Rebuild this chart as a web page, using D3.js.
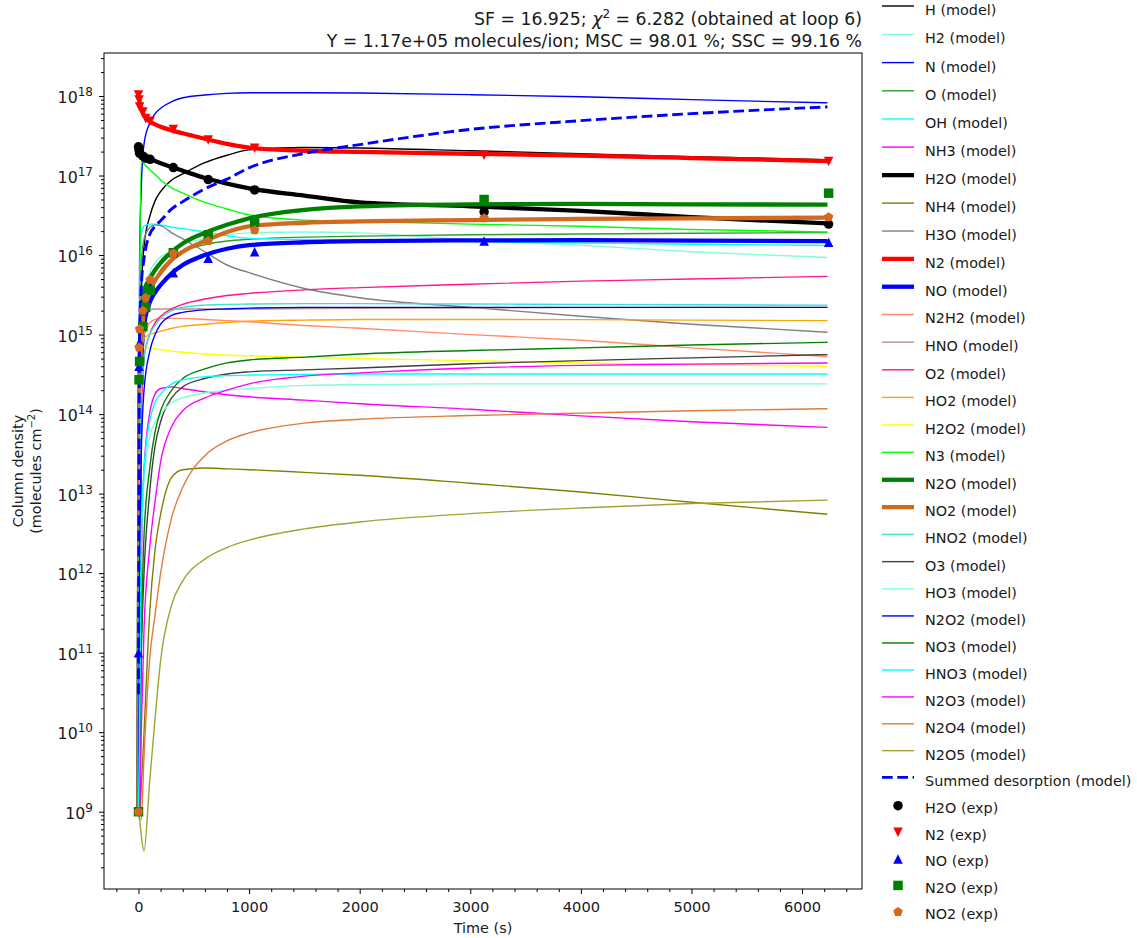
<!DOCTYPE html>
<html>
<head>
<meta charset="utf-8">
<title>Column density vs time</title>
<script src="https://d3js.org/d3.v7.min.js"></script>
<style>
  body { margin: 0; background: #fff; }
  svg text { font-family: "DejaVu Sans", sans-serif; fill: #1a1a1a; }
</style>
</head>
<body>
<div id="chart"></div>
<script>
// time grid of the model curves (s)
var modelTime = [0, 10, 25, 50, 100, 150, 200, 300, 400, 600, 800, 1000, 1500, 2000, 3000, 4000, 5000, 6230];

// model column densities (molecules cm-2), one array per species
var mH    = [1e9, 1e14, 3e15, 1.3e16, 3e16, 4.8e16, 6.3e16, 8.8e16, 1.05e17, 1.45e17, 1.8e17, 2.1e17, 2.25e17, 2.22e17, 2.05e17, 1.88e17, 1.73e17, 1.58e17];
var mH2   = [1e9, 1e14, 1e15, 3e15, 6e15, 8e15, 9.5e15, 1.1e16, 1.35e16, 1.6e16, 1.8e16, 1.9e16, 1.95e16, 1.9e16, 1.55e16, 1.33e16, 1.1e16, 9.3e15];
var mN    = [1e9, 1e16, 7e16, 2.5e17, 4.5e17, 6e17, 7e17, 8.5e17, 9.5e17, 1.03e18, 1.08e18, 1.1e18, 1.1e18, 1.09e18, 1.04e18, 9.8e17, 9e17, 8.2e17];
var mO    = [1e9, 1e13, 2e14, 1e15, 3e15, 5e15, 6.5e15, 9e15, 1.1e16, 1.35e16, 1.5e16, 1.58e16, 1.68e16, 1.73e16, 1.8e16, 1.84e16, 1.88e16, 1.92e16];
var mOH   = [1e9, 5e15, 1.8e16, 2.3e16, 2.45e16, 2.45e16, 2.4e16, 2.25e16, 2.15e16, 1.95e16, 1.75e16, 1.62e16, 1.57e16, 1.55e16, 1.48e16, 1.42e16, 1.37e16, 1.32e16];
var mNH3  = [1e9, 1e10, 1e12, 2e13, 1e14, 1.8e14, 2.1e14, 2.2e14, 2.1e14, 1.9e14, 1.75e14, 1.65e14, 1.5e14, 1.35e14, 1.15e14, 9.5e13, 8e13, 6.8e13];
var mH2O  = [2.3e17, 2.1e17, 1.9e17, 1.75e17, 1.62e17, 1.52e17, 1.43e17, 1.28e17, 1.15e17, 9.3e16, 7.9e16, 6.9e16, 5.6e16, 4.6e16, 4.1e16, 3.6e16, 3.0e16, 2.5e16];
var mNH4  = [1e9, 1e9, 2e9, 1e10, 3e11, 2e12, 5.5e12, 1.6e13, 2e13, 2.1e13, 2.05e13, 2e13, 1.85e13, 1.7e13, 1.35e13, 1.05e13, 7.8e12, 5.5e12];
var mH3O  = [1e9, 1e15, 8e15, 1.6e16, 2.2e16, 2.4e16, 2.35e16, 1.9e16, 1.6e16, 1.1e16, 7.5e15, 6e15, 3.8e15, 2.9e15, 2.2e15, 1.7e15, 1.35e15, 1.07e15];
var mN2   = [1.05e18, 8.5e17, 6.9e17, 5.7e17, 4.8e17, 4.4e17, 4.1e17, 3.7e17, 3.4e17, 2.9e17, 2.5e17, 2.25e17, 2.05e17, 1.98e17, 1.88e17, 1.78e17, 1.66e17, 1.52e17];
var mNO   = [1e9, 1e14, 5e14, 1.3e15, 2.5e15, 3.4e15, 4.2e15, 5.9e15, 7.5e15, 1.0e16, 1.2e16, 1.33e16, 1.45e16, 1.5e16, 1.53e16, 1.54e16, 1.52e16, 1.5e16];
var mN2H2 = [1e9, 1e14, 5e14, 1e15, 1.4e15, 1.55e15, 1.6e15, 1.6e15, 1.6e15, 1.55e15, 1.5e15, 1.45e15, 1.3e15, 1.2e15, 1e15, 8.5e14, 6.8e14, 5.3e14];
var mHNO  = [1e9, 5e14, 1.5e15, 1.9e15, 2.05e15, 2.1e15, 2.1e15, 2.1e15, 2.1e15, 2.1e15, 2.1e15, 2.1e15, 2.12e15, 2.14e15, 2.16e15, 2.18e15, 2.2e15, 2.2e15];
var mO2   = [1e9, 1e12, 1e14, 5e14, 1e15, 1.4e15, 1.7e15, 2.1e15, 2.4e15, 2.8e15, 3.1e15, 3.3e15, 3.65e15, 3.9e15, 4.3e15, 4.7e15, 5e15, 5.4e15];
var mHO2  = [1e9, 3e14, 7e14, 9e14, 1e15, 1.05e15, 1.1e15, 1.2e15, 1.27e15, 1.35e15, 1.42e15, 1.47e15, 1.52e15, 1.55e15, 1.55e15, 1.54e15, 1.52e15, 1.5e15];
var mH2O2 = [1e9, 5e14, 7e14, 7e14, 6.8e14, 6.6e14, 6.5e14, 6.2e14, 6e14, 5.7e14, 5.5e14, 5.4e14, 5.2e14, 5e14, 4.7e14, 4.4e14, 4.2e14, 4e14];
var mN3   = [1e9, 1e15, 1.55e17, 1.4e17, 1.2e17, 1.03e17, 8.8e16, 7e16, 6e16, 4.6e16, 3.8e16, 3.2e16, 2.75e16, 2.65e16, 2.45e16, 2.3e16, 2.1e16, 1.95e16];
var mN2O  = [1e9, 5e14, 1.5e15, 3.5e15, 5e15, 6.5e15, 8e15, 1.1e16, 1.4e16, 1.9e16, 2.4e16, 2.9e16, 3.7e16, 4.1e16, 4.35e16, 4.4e16, 4.35e16, 4.3e16];
var mNO2  = [1e9, 2e14, 8e14, 2e15, 3.5e15, 4.8e15, 6e15, 8.7e15, 1.1e16, 1.5e16, 1.95e16, 2.3e16, 2.55e16, 2.65e16, 2.75e16, 2.85e16, 2.9e16, 2.95e16];
var mHNO2 = [1e9, 1e13, 2e14, 5e14, 1e15, 1.3e15, 1.6e15, 2e15, 2.2e15, 2.35e15, 2.4e15, 2.42e15, 2.45e15, 2.45e15, 2.42e15, 2.4e15, 2.37e15, 2.35e15];
var mO3   = [1e9, 1e10, 1e11, 1e12, 1e13, 4e13, 8e13, 1.6e14, 2.2e14, 2.8e14, 3.2e14, 3.4e14, 3.6e14, 3.8e14, 4.3e14, 4.7e14, 5.1e14, 5.6e14];
var mHO3  = [1e9, 1e11, 2e12, 1.5e13, 5e13, 8e13, 1e14, 1.4e14, 1.6e14, 1.85e14, 2e14, 2.1e14, 2.3e14, 2.35e14, 2.4e14, 2.4e14, 2.4e14, 2.4e14];
var mN2O2 = [1e9, 1e12, 3e13, 2e14, 6e14, 1e15, 1.35e15, 1.75e15, 1.9e15, 2.05e15, 2.1e15, 2.15e15, 2.2e15, 2.2e15, 2.2e15, 2.2e15, 2.2e15, 2.2e15];
var mNO3  = [1e9, 1e9, 1e11, 3e12, 2e13, 6e13, 1.1e14, 2e14, 2.8e14, 3.7e14, 4.4e14, 4.8e14, 5.2e14, 5.7e14, 6.3e14, 6.8e14, 7.4e14, 8e14];
var mHNO3 = [1e9, 1e10, 3e12, 2e13, 8e13, 1.4e14, 1.8e14, 2.4e14, 2.7e14, 2.95e14, 3.05e14, 3.1e14, 3.15e14, 3.2e14, 3.2e14, 3.2e14, 3.2e14, 3.2e14];
var mN2O3 = [1e9, 1e9, 1e10, 2e11, 2e12, 8e12, 2.5e13, 7e13, 1.1e14, 1.6e14, 2e14, 2.4e14, 3e14, 3.3e14, 3.8e14, 4.1e14, 4.25e14, 4.4e14];
var mN2O4 = [1e9, 8e8, 8e8, 5e9, 8e10, 3e11, 1e12, 5e12, 1.2e13, 3e13, 4.6e13, 5.8e13, 7.7e13, 8.6e13, 9.6e13, 1.03e14, 1.1e14, 1.17e14];
var mN2O5 = [1e9, 8e8, 5e8, 3.2e8, 2.3e9, 1.5e10, 8e10, 4e11, 8e11, 1.5e12, 2.1e12, 2.6e12, 3.6e12, 4.4e12, 5.6e12, 6.6e12, 7.5e12, 8.3e12];
var mSummed = [3e10, 1e15, 4e15, 9e15, 1.8e16, 2.3e16, 2.7e16, 3.8e16, 4.7e16, 6.8e16, 9e16, 1.25e17, 1.9e17, 2.45e17, 3.8e17, 4.9e17, 6e17, 7.3e17];

// experimental points
var expTime = [0, 5, 10, 40, 65, 105, 315, 630, 1050, 3125, 6240];
var eH2O = [2.3e17, 2.1e17, 1.9e17, 1.75e17, 1.65e17, 1.6e17, 1.26e17, 8.9e16, 6.6e16, 3.5e16, 2.45e16];
var eN2  = [1.03e18, 8.9e17, 7.3e17, 6.3e17, 5.2e17, 4.8e17, 3.8e17, 2.8e17, 2.2e17, 1.8e17, 1.5e17];
var eNO  = [1e11, 4e14, 8e14, 2e15, 3e15, 4e15, 6e15, 9.1e15, 1.1e16, 1.5e16, 1.45e16];
var eN2O = [1e9, 2.7e14, 4.6e14, 1.26e15, 2.2e15, 3.6e15, 1.07e16, 1.8e16, 2.6e16, 5e16, 6e16];
var eNO2 = [1e9, 6.9e14, 1.17e15, 2e15, 2.9e15, 4.9e15, 1.05e16, 1.5e16, 2.05e16, 2.9e16, 3e16];

var xTicks = [0, 1000, 2000, 3000, 4000, 5000, 6000];
var yTickExp = [9, 10, 11, 12, 13, 14, 15, 16, 17, 18];

// series table
var models = [
  {name: "H", v: mH, color: "#000000"},
  {name: "H2", v: mH2, color: "#7fffd4"},
  {name: "N", v: mN, color: "#0000ff"},
  {name: "O", v: mO, color: "#2ca02c"},
  {name: "OH", v: mOH, color: "#00ffff"},
  {name: "NH3", v: mNH3, color: "#ff00ff"},
  {name: "H2O", v: mH2O, color: "#000000", thick: true},
  {name: "NH4", v: mNH4, color: "#808000"},
  {name: "H3O", v: mH3O, color: "#808080"},
  {name: "N2", v: mN2, color: "#ff0000", thick: true},
  {name: "NO", v: mNO, color: "#0000ff", thick: true},
  {name: "N2H2", v: mN2H2, color: "#ff8c69"},
  {name: "HNO", v: mHNO, color: "#bc8f8f"},
  {name: "O2", v: mO2, color: "#ff1493"},
  {name: "HO2", v: mHO2, color: "#ffa500"},
  {name: "H2O2", v: mH2O2, color: "#ffff00"},
  {name: "N3", v: mN3, color: "#00ff00"},
  {name: "N2O", v: mN2O, color: "#008000", thick: true},
  {name: "NO2", v: mNO2, color: "#d2691e", thick: true},
  {name: "HNO2", v: mHNO2, color: "#40e0d0"},
  {name: "O3", v: mO3, color: "#404040"},
  {name: "HO3", v: mHO3, color: "#7fffd4"},
  {name: "N2O2", v: mN2O2, color: "#0000ff"},
  {name: "NO3", v: mNO3, color: "#008000"},
  {name: "HNO3", v: mHNO3, color: "#00ffff"},
  {name: "N2O3", v: mN2O3, color: "#ff00ff"},
  {name: "N2O4", v: mN2O4, color: "#e07b39"},
  {name: "N2O5", v: mN2O5, color: "#a3a332"}
];

var exps = [
  {name: "H2O", v: eH2O, color: "#000000", shape: "circle"},
  {name: "N2", v: eN2, color: "#ff0000", shape: "down"},
  {name: "NO", v: eNO, color: "#0000ff", shape: "up"},
  {name: "N2O", v: eN2O, color: "#008000", shape: "square"},
  {name: "NO2", v: eNO2, color: "#d2691e", shape: "pentagon"}
];

var W = 1137, H = 938;
var plot = {left: 104, right: 862, top: 53, bottom: 889};
var thinW = 1.4, thickW = 4.3, sumW = 2.9, ms = 9.5;

var svg = d3.select("#chart").append("svg")
  .attr("width", W).attr("height", H);

var x = d3.scaleLinear().domain([-312, 6542]).range([plot.left, plot.right]);
var y = d3.scaleLog().domain([Math.pow(10, 8.028), Math.pow(10, 18.541)]).range([plot.bottom, plot.top]);

svg.append("clipPath").attr("id", "clip")
  .append("rect")
  .attr("x", plot.left).attr("y", plot.top)
  .attr("width", plot.right - plot.left).attr("height", plot.bottom - plot.top);

// marker shapes, size = marker extent in px
var shapes = {
  circle: {draw: function(c, s) { var r = s / 2; c.moveTo(r, 0); c.arc(0, 0, r, 0, 2 * Math.PI); }},
  up: {draw: function(c, s) { var r = s / 2; c.moveTo(0, -r); c.lineTo(r, r); c.lineTo(-r, r); c.closePath(); }},
  down: {draw: function(c, s) { var r = s / 2; c.moveTo(0, r); c.lineTo(r, -r); c.lineTo(-r, -r); c.closePath(); }},
  square: {draw: function(c, s) { var r = s / 2; c.rect(-r, -r, s, s); }},
  pentagon: {draw: function(c, s) {
    var r = s / 2 * 1.05;
    for (var i = 0; i < 5; i++) {
      var a = -Math.PI / 2 + i * 2 * Math.PI / 5;
      if (i === 0) c.moveTo(r * Math.cos(a), r * Math.sin(a));
      else c.lineTo(r * Math.cos(a), r * Math.sin(a));
    }
    c.closePath();
  }}
};

var line = d3.line()
  .x(function(d) { return x(d[0]); })
  .y(function(d) { return y(d[1]); })
  .curve(d3.curveMonotoneX);

var g = svg.append("g").attr("clip-path", "url(#clip)");

models.forEach(function(m) {
  g.append("path")
    .datum(d3.zip(modelTime, m.v))
    .attr("d", line)
    .attr("fill", "none")
    .attr("stroke", m.color)
    .attr("stroke-width", m.thick ? thickW : thinW)
    .attr("stroke-linejoin", "round");
});

g.append("path")
  .datum(d3.zip(modelTime, mSummed))
  .attr("d", line)
  .attr("fill", "none")
  .attr("stroke", "#0000ff")
  .attr("stroke-width", sumW)
  .attr("stroke-dasharray", "10.7,4.6");

exps.forEach(function(e) {
  g.selectAll(null)
    .data(d3.zip(expTime, e.v))
    .enter().append("path")
    .attr("transform", function(d) { return "translate(" + x(d[0]) + "," + y(d[1]) + ")"; })
    .attr("d", d3.symbol().type(shapes[e.shape]).size(ms))
    .attr("fill", e.color);
});

// x axis
var xAxis = svg.append("g")
  .attr("transform", "translate(0," + plot.bottom + ")")
  .style("color", "#000")
  .call(d3.axisBottom(x).tickValues(xTicks).tickSize(5).tickPadding(8).tickFormat(d3.format("d")));
xAxis.select(".domain").remove();
xAxis.selectAll("text").style("font-size", "14.6px").attr("fill", "#1a1a1a");

var xMinor = d3.range(-200, 6501, 200).filter(function(v) { return v % 1000 !== 0; });
var xAxisMinor = svg.append("g")
  .attr("transform", "translate(0," + plot.bottom + ")")
  .style("color", "#000")
  .call(d3.axisBottom(x).tickValues(xMinor).tickSize(3).tickFormat(""));
xAxisMinor.select(".domain").remove();

// y axis
var yMajor = yTickExp.map(function(k) { return Math.pow(10, k); });
var yAxis = svg.append("g")
  .attr("transform", "translate(" + plot.left + ",0)")
  .style("color", "#000")
  .call(d3.axisLeft(y).tickValues(yMajor).tickSize(5).tickFormat(""));
yAxis.select(".domain").remove();

var yMinor = [];
d3.range(8, 19).forEach(function(k) {
  d3.range(2, 10).forEach(function(m) {
    var v = m * Math.pow(10, k);
    if (v > y.domain()[0] && v < y.domain()[1]) yMinor.push(v);
  });
});
var yAxisMinor = svg.append("g")
  .attr("transform", "translate(" + plot.left + ",0)")
  .style("color", "#000")
  .call(d3.axisLeft(y).tickValues(yMinor).tickSize(3).tickFormat(""));
yAxisMinor.select(".domain").remove();

yTickExp.forEach(function(k) {
  var t = svg.append("text")
    .attr("x", plot.left - 11)
    .attr("y", y(Math.pow(10, k)) + 7)
    .attr("text-anchor", "end")
    .style("font-size", "15.8px");
  t.append("tspan").text("10");
  t.append("tspan").attr("dy", -7).style("font-size", "12px").text(k);
});

// frame
svg.append("rect")
  .attr("x", plot.left).attr("y", plot.top)
  .attr("width", plot.right - plot.left).attr("height", plot.bottom - plot.top)
  .attr("fill", "none").attr("stroke", "#000").attr("stroke-width", 1);

// axis labels
svg.append("text")
  .attr("x", (plot.left + plot.right) / 2).attr("y", 933)
  .attr("text-anchor", "middle").style("font-size", "14.4px")
  .text("Time (s)");

var yl = svg.append("g")
  .attr("transform", "translate(23," + (plot.top + plot.bottom) / 2 + ") rotate(-90)");
yl.append("text").attr("text-anchor", "middle").style("font-size", "14.4px").text("Column density");
var yl2 = yl.append("text").attr("y", 17.5).attr("text-anchor", "middle").style("font-size", "14.4px");
yl2.append("tspan").text("(molecules cm");
yl2.append("tspan").attr("dy", -6).style("font-size", "10px").text("\u22122");
yl2.append("tspan").attr("dy", 6).text(")");

// title
var t1 = svg.append("text").attr("x", plot.right).attr("y", 25)
  .attr("text-anchor", "end").style("font-size", "17.3px");
t1.append("tspan").text("SF = 16.925; ");
t1.append("tspan").style("font-style", "italic").text("\u03c7");
t1.append("tspan").attr("dy", -7).style("font-size", "12px").text("2");
t1.append("tspan").attr("dy", 7).text(" = 6.282 (obtained at loop 6)");
svg.append("text").attr("x", plot.right).attr("y", 47)
  .attr("text-anchor", "end").style("font-size", "17.3px")
  .text("Y = 1.17e+05 molecules/ion; MSC = 98.01 %; SSC = 99.16 %");

// legend
var legendItems = models.map(function(m) {
  return {label: m.name + " (model)", kind: "line", color: m.color, width: m.thick ? thickW : thinW};
});
legendItems.push({label: "Summed desorption (model)", kind: "dash", color: "#0000ff", width: sumW});
exps.forEach(function(e) {
  legendItems.push({label: e.name + " (exp)", kind: "marker", color: e.color, shape: e.shape});
});

function rowCenter(i) { return 10.5 + 28.36 * i - 0.0289 * i * i; }

var lg = svg.append("g");
legendItems.forEach(function(it, i) {
  var yb = rowCenter(i) + 4.5;
  if (it.kind === "marker") {
    lg.append("path")
      .attr("transform", "translate(898," + (yb - 7.5) + ")")
      .attr("d", d3.symbol().type(shapes[it.shape]).size(ms))
      .attr("fill", it.color);
  } else {
    lg.append("line")
      .attr("x1", 882).attr("x2", 914)
      .attr("y1", yb - 9).attr("y2", yb - 9)
      .attr("stroke", it.color)
      .attr("stroke-width", it.width)
      .attr("stroke-dasharray", it.kind === "dash" ? "10.7,4.6" : null);
  }
  lg.append("text")
    .attr("x", 925).attr("y", yb)
    .style("font-size", "14.4px")
    .text(it.label);
});
</script>
</body>
</html>
